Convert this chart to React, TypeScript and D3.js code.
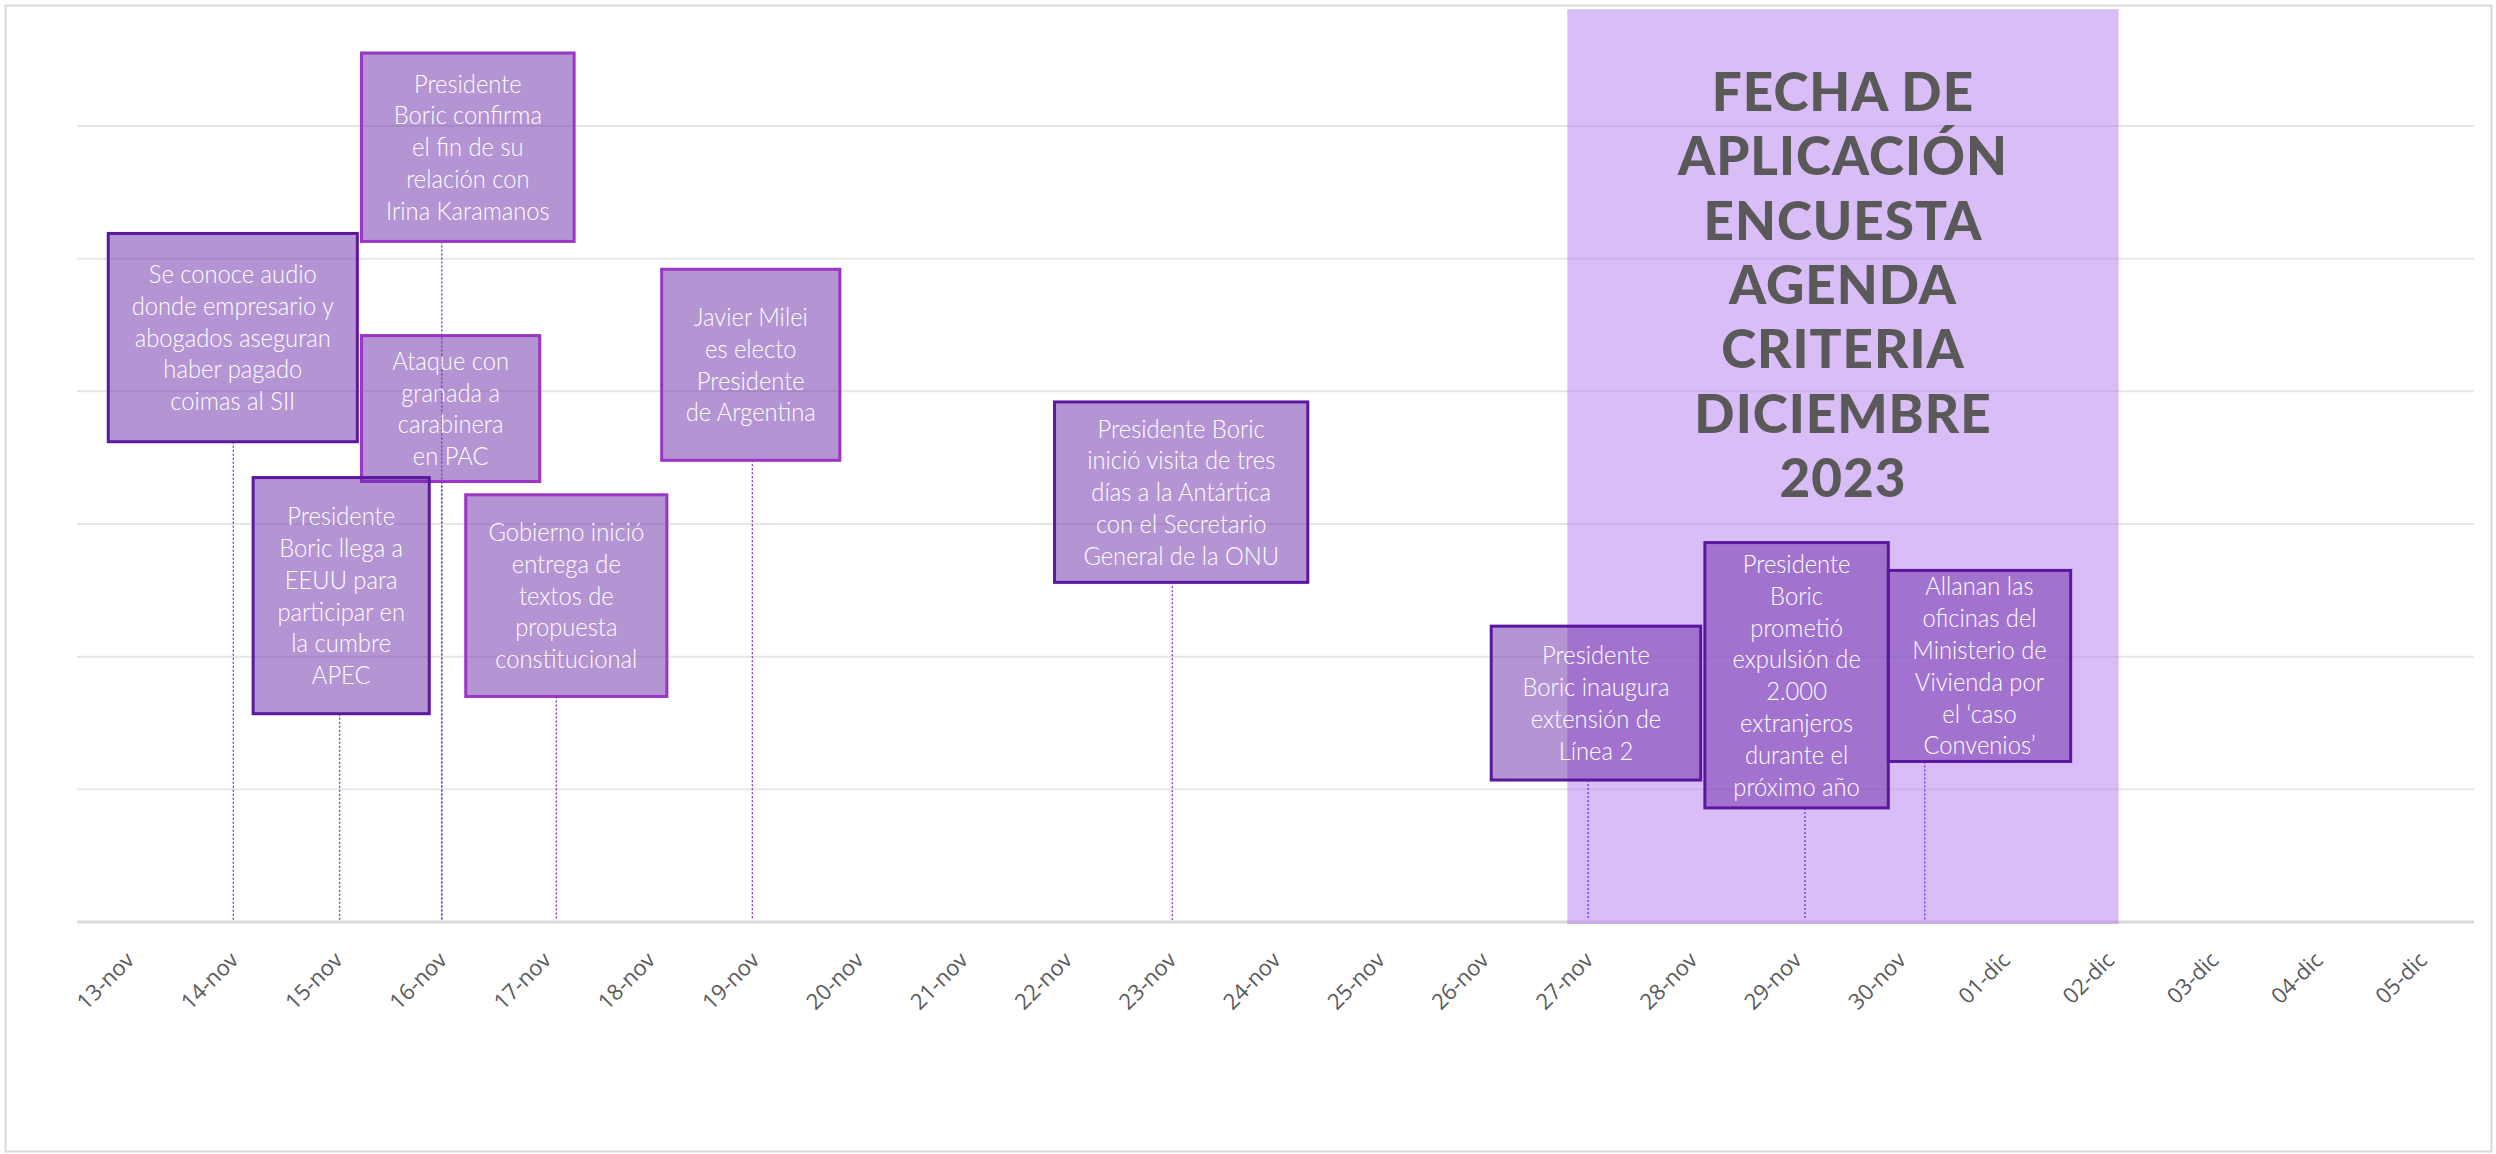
import React, { useEffect, useRef } from 'react';
import * as d3 from 'd3';

// x axis categories (one per day)
const dayLabels = [
  '13-nov', '14-nov', '15-nov', '16-nov', '17-nov', '18-nov', '19-nov', '20-nov',
  '21-nov', '22-nov', '23-nov', '24-nov', '25-nov', '26-nov', '27-nov', '28-nov',
  '29-nov', '30-nov', '01-dic', '02-dic', '03-dic', '04-dic', '05-dic',
];
const gridValues = [1, 2, 3, 4, 5, 6];

// events: day offset from 13-nov
const eventDays = [1.0, 3.0, 3.0, 2.02, 4.1, 5.98, 10.01, 14.0, 16.08, 17.23];
const eventTexts = [
  ['Se conoce audio', 'donde empresario y', 'abogados aseguran', 'haber pagado', 'coimas al SII'],
  ['Presidente', 'Boric confirma', 'el fin de su', 'relación con', 'Irina Karamanos'],
  ['Ataque con', 'granada a', 'carabinera', 'en PAC'],
  ['Presidente', 'Boric llega a', 'EEUU para', 'participar en', 'la cumbre', 'APEC'],
  ['Gobierno inició', 'entrega de', 'textos de', 'propuesta', 'constitucional'],
  ['Javier Milei', 'es electo', 'Presidente', 'de Argentina'],
  ['Presidente Boric', 'inició visita de tres', 'días a la Antártica', 'con el Secretario', 'General de la ONU'],
  ['Presidente', 'Boric inaugura', 'extensión de', 'Línea 2'],
  ['Presidente', 'Boric', 'prometió', 'expulsión de', '2.000', 'extranjeros', 'durante el', 'próximo año'],
  ['Allanan las', 'oficinas del', 'Ministerio de', 'Vivienda por', 'el ‘caso', 'Convenios’'],
];
// label box extents in chart units (day, value)
const boxDayStart = [-0.2, 2.23, 2.23, 1.19, 3.23, 5.11, 8.88, 13.07, 15.12, 16.88];
const boxDayEnd = [2.19, 4.27, 3.94, 2.88, 5.16, 6.82, 11.31, 15.08, 16.88, 18.63];
const boxTop = [5.19, 6.55, 4.42, 3.35, 3.22, 4.92, 3.92, 2.23, 2.86, 2.65];
const boxBottom = [3.62, 5.13, 3.32, 1.57, 1.7, 3.48, 2.56, 1.07, 0.86, 1.21];

// survey window
const surveyStart = 13.8;
const surveyEnd = 19.09;
const surveyTop = 6.88;
const surveyTitle = ['FECHA DE', 'APLICACIÓN', 'ENCUESTA', 'AGENDA', 'CRITERIA', 'DICIEMBRE', '2023'];

export default function App() {
  const svgRef = useRef<SVGSVGElement>(null);

  useEffect(() => {
    if (!svgRef.current) return;
    const svg = d3.select(svgRef.current);
    svg.selectAll('*').remove();

    const W = 2496;
    const H = 1154;
    const left = 77;
    const right = 2474;
    const baseY = 922;

    const x = d3.scaleLinear().domain([-0.5, dayLabels.length - 0.5]).range([left, right]);
    const y = d3.scaleLinear().domain([0, 7]).range([baseY, baseY - 7 * 132.67]);

    svg.attr('width', W).attr('height', H);

    svg.append('rect').attr('width', W).attr('height', H).attr('fill', '#fff');
    // chart border
    svg
      .append('rect')
      .attr('x', 5.5)
      .attr('y', 5.5)
      .attr('width', 2486)
      .attr('height', 1146)
      .attr('fill', 'none')
      .attr('stroke', '#d9d9d9')
      .attr('stroke-width', 2);

    // gridlines
    svg
      .append('g')
      .selectAll('line')
      .data(gridValues)
      .enter()
      .append('line')
      .attr('x1', left)
      .attr('x2', right)
      .attr('y1', (d) => y(d))
      .attr('y2', (d) => y(d))
      .attr('stroke', '#e6e6e6')
      .attr('stroke-width', 2);

    // baseline
    svg
      .append('line')
      .attr('x1', left)
      .attr('x2', right)
      .attr('y1', y(0))
      .attr('y2', y(0))
      .attr('stroke', '#d9d9d9')
      .attr('stroke-width', 3);

    // x labels
    svg
      .append('g')
      .selectAll('text')
      .data(dayLabels)
      .enter()
      .append('text')
      .attr('transform', (d, i) => `translate(${x(i) + 1},${baseY + 34}) rotate(-45)`)
      .attr('text-anchor', 'end')
      .attr('dy', '0.35em')
      .style('font-family', '"Open Sans", "Liberation Sans", sans-serif')
      .style('font-size', '22px')
      .style('fill', '#595959')
      .text((d) => d);

    // survey window
    svg
      .append('rect')
      .attr('x', x(surveyStart))
      .attr('y', y(surveyTop))
      .attr('width', x(surveyEnd) - x(surveyStart))
      .attr('height', y(0) - y(surveyTop) + 2)
      .attr('fill', '#b27cf0')
      .attr('fill-opacity', 0.5);

    const cx = (x(surveyStart) + x(surveyEnd)) / 2;
    const title = svg
      .append('text')
      .attr('text-anchor', 'middle')
      .style('font-family', 'Lato, "Open Sans", sans-serif')
      .style('font-weight', 900)
      .style('font-size', '53px')
      .style('letter-spacing', '1px')
      .style('fill', '#595959');
    title
      .selectAll('tspan')
      .data(surveyTitle)
      .enter()
      .append('tspan')
      .attr('x', cx)
      .attr('y', (d, i) => 111 + i * 64.3)
      .text((d) => d);

    const darkBorder = new Set([0, 3, 6, 7, 8, 9]);

    // leader lines
    svg
      .append('g')
      .selectAll('line')
      .data(eventDays)
      .enter()
      .append('line')
      .attr('x1', (d) => x(d))
      .attr('x2', (d) => x(d))
      .attr('y1', (d, i) => y(boxBottom[i]))
      .attr('y2', y(0) - 2)
      .attr('stroke', '#7a2fd0')
      .attr('stroke-width', 1.3)
      .attr('stroke-dasharray', '2,2');

    // label boxes
    const boxes = svg
      .append('g')
      .selectAll('g')
      .data(eventTexts)
      .enter()
      .append('g');

    boxes
      .append('rect')
      .attr('x', (d, i) => x(boxDayStart[i]))
      .attr('y', (d, i) => y(boxTop[i]))
      .attr('width', (d, i) => x(boxDayEnd[i]) - x(boxDayStart[i]))
      .attr('height', (d, i) => y(boxBottom[i]) - y(boxTop[i]))
      .attr('fill', '#6a2aa8')
      .attr('fill-opacity', 0.5)
      .attr('stroke', (d, i) => (darkBorder.has(i) ? '#5b17a0' : '#9a35c5'))
      .attr('stroke-width', 3);

    boxes.each(function (lines, i) {
      const g = d3.select(this);
      const bx = (x(boxDayStart[i]) + x(boxDayEnd[i])) / 2;
      const by = (y(boxTop[i]) + y(boxBottom[i])) / 2;
      const lh = 31.8;
      const t = g
        .append('text')
        .attr('transform', `translate(${bx},0) scale(0.95,1)`)
        .attr('text-anchor', 'middle')
        .style('font-family', 'Lato, "Open Sans", sans-serif')
        .style('font-weight', 300)
        .style('font-size', '25px')
        .style('fill', '#ffffff');
      lines.forEach((s, j) => {
        t.append('tspan')
          .attr('x', 0)
          .attr('y', by + (j - (lines.length - 1) / 2) * lh + 9)
          .text(s);
      });
    });
  }, []);

  return (
    <div style={{ position: 'absolute', left: 0, top: 0 }}>
      <svg ref={svgRef} style={{ display: 'block' }}></svg>
    </div>
  );
}
